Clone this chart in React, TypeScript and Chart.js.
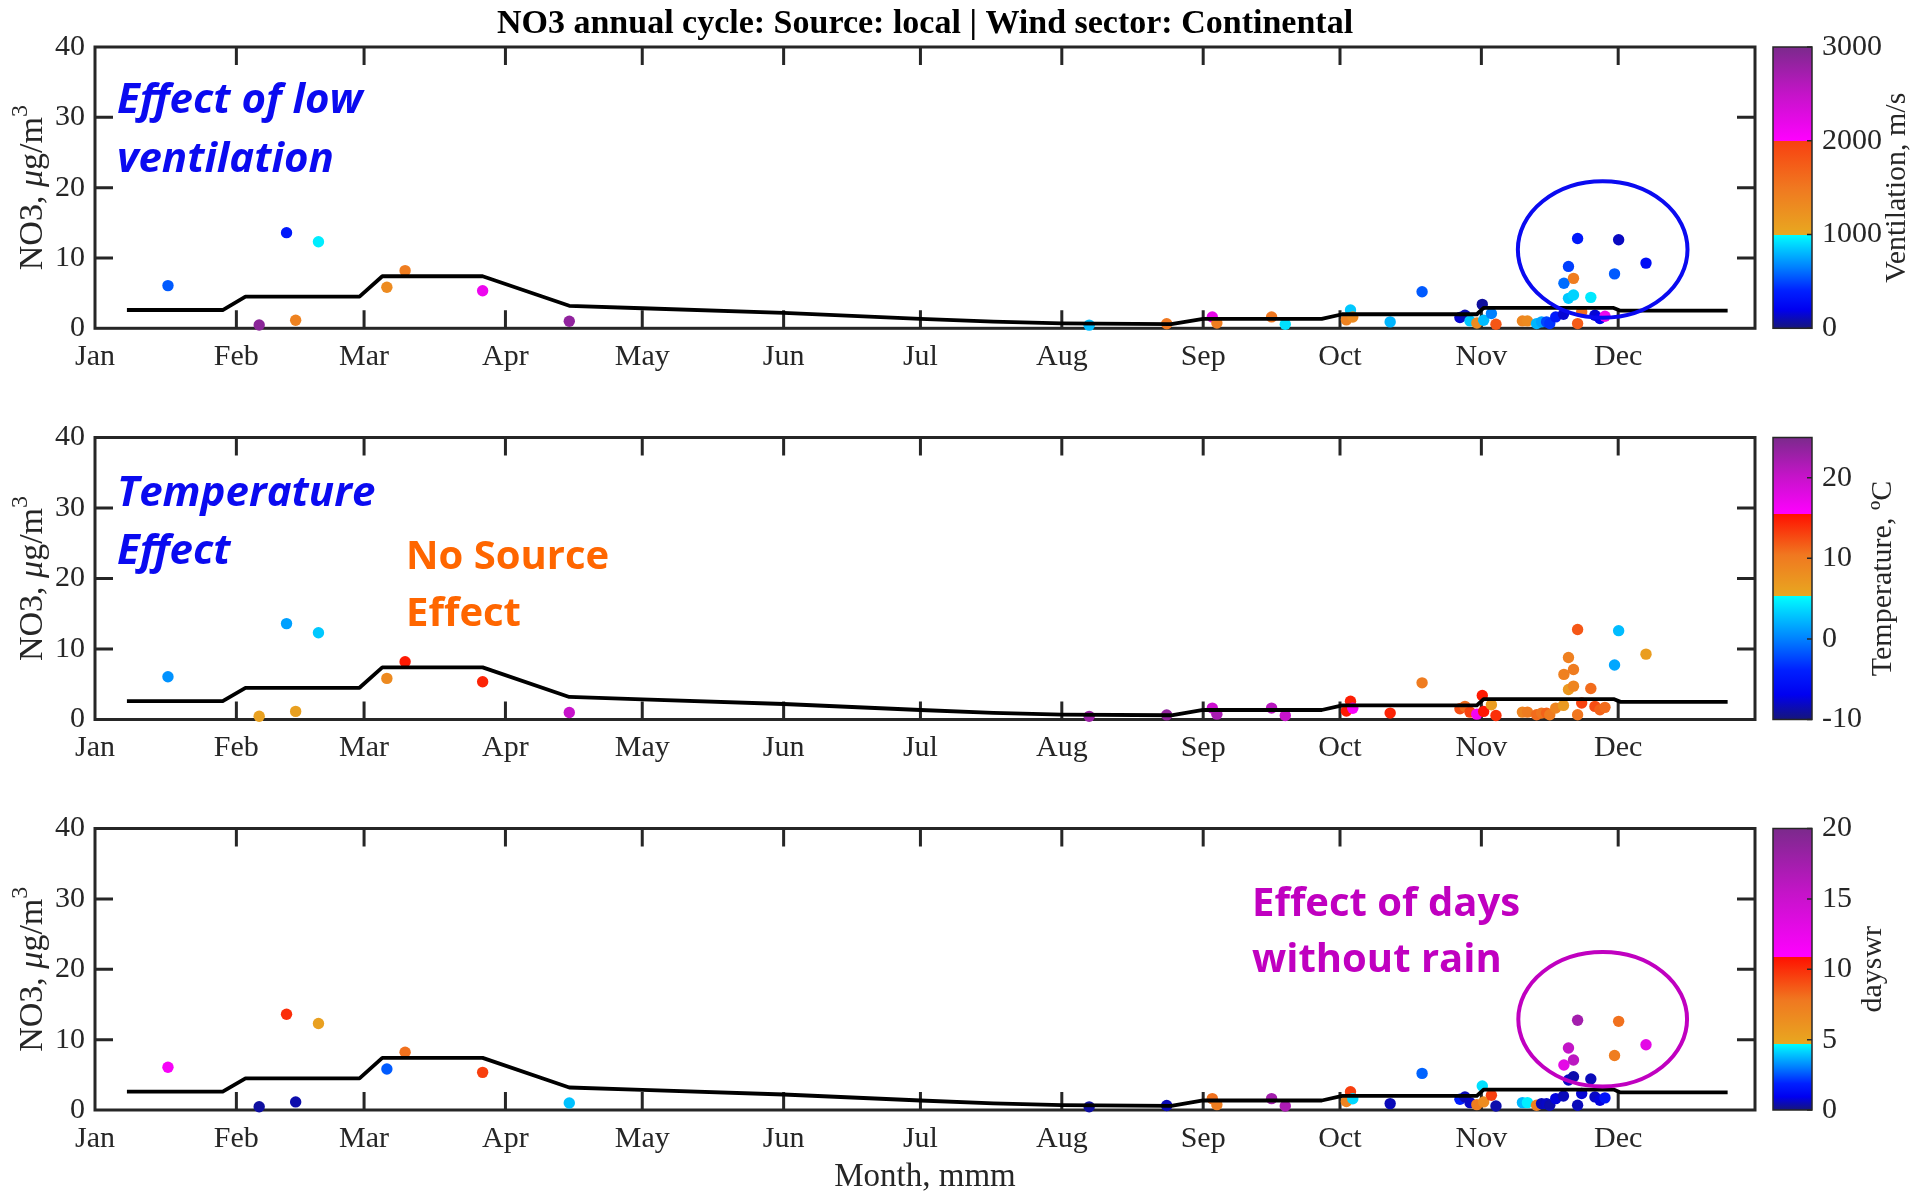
import React, { useEffect, useRef } from 'react';
import { Chart, registerables } from 'chart.js';

Chart.register(...registerables);

// ---------- axis ticks ----------
const monthTickDays = [0, 31, 59, 90, 120, 151, 181, 212, 243, 273, 304, 334];
const monthLabels = ['Jan', 'Feb', 'Mar', 'Apr', 'May', 'Jun', 'Jul', 'Aug', 'Sep', 'Oct', 'Nov', 'Dec'];
const no3Ticks = [0, 10, 20, 30, 40];
const ventilationTicks = [0, 1000, 2000, 3000];
const temperatureTicks = [-10, 0, 10, 20];
const dayswrTicks = [0, 5, 10, 15, 20];

// ---------- daily samples (day of year, NO3) ----------
const sampleDay = [16, 36, 42, 44, 49, 64, 68, 85, 104, 218, 235, 245, 246, 258, 261, 274.4, 275.3, 275.8, 284, 291,
  299.3, 300.4, 301.5, 303, 304.2, 304.5, 306.2, 307.2, 313, 314.1, 316.1, 317.2, 318.3, 319, 320.3, 322,
  323.1, 324.2, 322.1, 324.2, 323.1, 325.1, 328, 326, 325.1, 328.9, 330, 331.1, 334.1, 333.2, 340.1];
const sampleNo3 = [6.07, 0.47, 13.6, 1.15, 12.3, 5.83, 8.2, 5.35, 1.0, 0.45, 0.65, 1.62, 0.76, 1.62, 0.57, 1.2, 2.6, 1.6, 0.91, 5.2,
  1.53, 1.86, 1.05, 0.76, 3.4, 1.15, 2.1, 0.57, 1.05, 1.05, 0.67, 0.91, 0.91, 0.67, 1.62, 2.0,
  4.26, 4.73, 6.4, 7.1, 8.8, 12.76, 4.4, 2.34, 0.67, 1.86, 1.39, 1.72, 12.6, 7.74, 9.27];
const ventilation = [550, 2900, 350, 1400, 950, 1300, 1450, 2150, 2850, 820, 1500, 2200, 1450, 1500, 920, 1400, 850, 1300, 800, 550,
  150, 100, 850, 1300, 60, 820, 650, 1800, 1350, 1300, 800, 750, 500, 450, 350, 150,
  850, 880, 600, 1450, 480, 350, 940, 1600, 1750, 150, 200, 2150, 120, 550, 280];
const temperature = [0.7, 6.0, 1.3, 6.2, 3.0, 8.5, 15, 14.5, 20, 23, 23.5, 19.5, 22, 21, 20, 15, 14.8, 16, 14.5, 10,
  12.5, 11, 13, 16.5, 15, 15.2, 6.5, 14, 9, 10, 11, 10.5, 11.5, 10, 9, 6.8,
  7, 9, 9.5, 10, 9.5, 12, 11, 13, 10.5, 12.5, 11.5, 11, 2.5, 1.6, 6.5];
const dayswr = [11.5, 0.3, 10, 0.4, 5.2, 2.6, 8, 9.5, 3.9, 0.3, 0.5, 8, 7.5, 17.5, 17, 7, 9.5, 4.2, 0.5, 2.7,
  1.8, 0.5, 0.6, 7.5, 4.3, 6.5, 9.5, 0.4, 3.8, 4.5, 7.2, 0.5, 0.6, 0.4, 0.8, 0.5,
  0.6, 0.4, 13, 16, 15.5, 17.5, 0.5, 0.7, 0.5, 0.6, 0.8, 1.5, 8, 7.5, 13];

// ---------- annual cycle curve ----------
const curveDay = [7, 28, 33, 58, 63, 85, 104, 120, 151, 181, 197, 212, 236, 243, 269, 273.5, 303, 304.5, 333, 334.5, 358];
const curveNo3 = [2.6, 2.6, 4.5, 4.5, 7.4, 7.4, 3.2, 2.85, 2.2, 1.35, 0.95, 0.7, 0.6, 1.35, 1.35, 2.0, 2.0, 2.9, 2.9, 2.5, 2.5];

const SERIF = '"Liberation Serif", "Times New Roman", Times, serif';
const SANS = '"Open Sans", "Noto Sans", sans-serif';
const INK = '#262626';
const TITLE = 'NO3 annual cycle: Source: local | Wind sector: Continental';

type Stop = [number, string];

function buildStops(range: number[], breaks: number[], redEnd: string): Stop[] {
  const span = range[1] - range[0];
  const b1 = (breaks[0] - range[0]) / span;
  const b2 = (breaks[1] - range[0]) / span;
  const blue: Stop[] = [[0, '#16167a'], [0.2, '#0000f0'], [0.4, '#0020ff'], [0.65, '#0080ff'], [0.85, '#00c8ff'], [1, '#00ffff']];
  const orange: Stop[] = [[0, '#e8a820'], [0.5, '#f07820'], [1, redEnd]];
  const mag: Stop[] = [[0, '#ff00ff'], [0.5, '#c414c8'], [1, '#7b2a8c']];
  return [
    ...blue.map(([f, c]) => [f * b1, c] as Stop),
    ...orange.map(([f, c]) => [b1 + f * (b2 - b1), c] as Stop),
    ...mag.map(([f, c]) => [b2 + f * (1 - b2), c] as Stop),
  ];
}

function hexToRgb(h: string) {
  return [parseInt(h.slice(1, 3), 16), parseInt(h.slice(3, 5), 16), parseInt(h.slice(5, 7), 16)];
}

function colorAt(stops: Stop[], t: number) {
  const tt = Math.max(0, Math.min(1, t));
  for (let i = 0; i < stops.length - 1; i++) {
    const [p0, c0] = stops[i];
    const [p1, c1] = stops[i + 1];
    if (p1 > p0 && tt >= p0 && tt <= p1) {
      const f = (tt - p0) / (p1 - p0);
      const a = hexToRgb(c0), b = hexToRgb(c1);
      const m = a.map((v, k) => Math.round(v + (b[k] - v) * f));
      return `rgb(${m[0]},${m[1]},${m[2]})`;
    }
  }
  return stops[stops.length - 1][1];
}

type Note = { text: string; day: number; value: number; color: string; italic: boolean };

const panels = [
  {
    values: ventilation, range: [0, 3000], breaks: [1000, 2000], redEnd: '#f84010', cbTicks: ventilationTicks,
    cbLabel: 'Ventilation, m/s', cbLabelX: 1897, canvasTop: 0, height: 390, plotTop: 47, plotBottom: 328.3,
    title: true, xTitle: false,
    notes: [
      { text: 'Effect of low', day: 4.8, value: 30.6, color: '#0a0af0', italic: true },
      { text: 'ventilation', day: 4.8, value: 22.2, color: '#0a0af0', italic: true },
    ] as Note[],
    ellipse: { day: 330.6, value: 11.2, rxDays: 18.6, ryValue: 9.7, color: '#0a0af0' },
  },
  {
    values: temperature, range: [-10, 25], breaks: [5.3, 15.5], redEnd: '#ff1000', cbTicks: temperatureTicks,
    cbLabel: 'Temperature, \u00baC', cbLabelX: 1883, canvasTop: 390, height: 390, plotTop: 437.5, plotBottom: 719.5,
    title: false, xTitle: false,
    notes: [
      { text: 'Temperature', day: 4.8, value: 30.3, color: '#0a0af0', italic: true },
      { text: 'Effect', day: 4.8, value: 22.1, color: '#0a0af0', italic: true },
      { text: 'No Source', day: 68.2, value: 21.4, color: '#ff6600', italic: false },
      { text: 'Effect', day: 68.2, value: 13.3, color: '#ff6600', italic: false },
    ] as Note[],
    ellipse: null as any,
  },
  {
    values: dayswr, range: [0, 20], breaks: [4.7, 10.9], redEnd: '#ff1000', cbTicks: dayswrTicks,
    cbLabel: 'dayswr', cbLabelX: 1873, canvasTop: 780, height: 413, plotTop: 828.5, plotBottom: 1110,
    title: false, xTitle: true,
    notes: [
      { text: 'Effect of days', day: 253.7, value: 27.6, color: '#c000c0', italic: false },
      { text: 'without rain', day: 253.7, value: 19.6, color: '#c000c0', italic: false },
    ] as Note[],
    ellipse: { day: 330.6, value: 12.9, rxDays: 18.5, ryValue: 9.55, color: '#c000c0' },
  },
];

const PLOT_LEFT = 95;
const PLOT_RIGHT = 1755;
const WIDTH = 1917;

function zeroPad(s: any) {
  s.paddingTop = 0;
  s.paddingBottom = 0;
  s.paddingLeft = 0;
  s.paddingRight = 0;
}

function makeConfig(p: any): any {
  const stops = buildStops(p.range, p.breaks, p.redEnd);
  const colors = p.values.map((v: number) => colorAt(stops, (v - p.range[0]) / (p.range[1] - p.range[0])));
  const localTop = p.plotTop - p.canvasTop;
  const xAxisH = p.height - (p.plotBottom - p.canvasTop);
  const tickFont = { family: SERIF, size: 30 };

  const decor = {
    id: 'decor',
    beforeDatasetsDraw(chart: any) {
      const { ctx, chartArea: a, scales } = chart;
      ctx.save();
      ctx.strokeStyle = INK;
      ctx.lineWidth = 3;
      ctx.strokeRect(a.left, a.top, a.right - a.left, a.bottom - a.top);
      ctx.beginPath();
      const tl = 18;
      monthTickDays.forEach((d) => {
        const x = scales.x.getPixelForValue(d);
        if (x <= a.left + 1) return;
        ctx.moveTo(x, a.bottom); ctx.lineTo(x, a.bottom - tl);
        ctx.moveTo(x, a.top); ctx.lineTo(x, a.top + tl);
      });
      no3Ticks.forEach((v) => {
        const y = scales.y.getPixelForValue(v);
        if (y >= a.bottom - 1 || y <= a.top + 1) return;
        ctx.moveTo(a.left, y); ctx.lineTo(a.left + tl, y);
        ctx.moveTo(a.right, y); ctx.lineTo(a.right - tl, y);
      });
      ctx.stroke();
      ctx.restore();
    },
    afterDatasetsDraw(chart: any) {
      const { ctx, scales } = chart;
      ctx.save();
      p.notes.forEach((n: Note) => {
        ctx.font = n.italic ? `italic 700 42px ${SANS}` : `700 40px ${SANS}`;
        ctx.fillStyle = n.color;
        ctx.textAlign = 'left';
        ctx.textBaseline = 'alphabetic';
        ctx.fillText(n.text, scales.x.getPixelForValue(n.day), scales.y.getPixelForValue(n.value));
      });
      if (p.ellipse) {
        const e = p.ellipse;
        const cx = scales.x.getPixelForValue(e.day);
        const cy = scales.y.getPixelForValue(e.value);
        const rx = scales.x.getPixelForValue(e.day + e.rxDays) - cx;
        const ry = cy - scales.y.getPixelForValue(e.value + e.ryValue);
        ctx.beginPath();
        ctx.ellipse(cx, cy, rx, ry, 0, 0, Math.PI * 2);
        ctx.strokeStyle = e.color;
        ctx.lineWidth = 4;
        ctx.stroke();
      }
      ctx.restore();
    },
    afterDraw(chart: any) {
      const { ctx, chartArea: a, scales } = chart;
      const cb = scales.cb;
      ctx.save();
      // colorbar
      const x0 = a.right + 18, x1 = a.right + 57;
      const top = cb.getPixelForValue(p.range[1]);
      const bottom = cb.getPixelForValue(p.range[0]);
      const g = ctx.createLinearGradient(0, bottom, 0, top);
      stops.forEach(([pos, c]) => g.addColorStop(pos, c));
      ctx.fillStyle = g;
      ctx.fillRect(x0, top, x1 - x0, bottom - top);
      ctx.strokeStyle = INK;
      ctx.lineWidth = 1.5;
      ctx.strokeRect(x0, top, x1 - x0, bottom - top);
      ctx.beginPath();
      p.cbTicks.forEach((v: number) => {
        const y = cb.getPixelForValue(v);
        ctx.moveTo(x1, y); ctx.lineTo(x1 - 5, y);
      });
      ctx.stroke();
      // colorbar label
      ctx.save();
      ctx.translate(p.cbLabelX, (top + bottom) / 2);
      ctx.rotate(-Math.PI / 2);
      ctx.font = `30px ${SERIF}`;
      ctx.fillStyle = INK;
      ctx.textAlign = 'center';
      ctx.textBaseline = 'middle';
      ctx.fillText(p.cbLabel, 0, 0);
      ctx.restore();
      // y label: NO3, μg/m^3
      const fs = 34;
      const parts = [
        { t: 'NO3, ', f: `${fs}px ${SERIF}`, rise: 0 },
        { t: '\u03bc', f: `italic ${fs}px ${SERIF}`, rise: 0 },
        { t: 'g/m', f: `${fs}px ${SERIF}`, rise: 0 },
        { t: '3', f: `${Math.round(fs * 0.72)}px ${SERIF}`, rise: fs * 0.45 },
      ];
      let total = 0;
      parts.forEach((pt) => { ctx.font = pt.f; total += ctx.measureText(pt.t).width; });
      ctx.save();
      ctx.translate(42, (a.top + a.bottom) / 2);
      ctx.rotate(-Math.PI / 2);
      ctx.fillStyle = INK;
      ctx.textAlign = 'left';
      ctx.textBaseline = 'alphabetic';
      let xx = -total / 2;
      parts.forEach((pt) => {
        ctx.font = pt.f;
        ctx.fillText(pt.t, xx, -pt.rise);
        xx += ctx.measureText(pt.t).width;
      });
      ctx.restore();
      // title
      if (p.title) {
        ctx.font = `bold 34px ${SERIF}`;
        ctx.fillStyle = '#000';
        ctx.textAlign = 'center';
        ctx.textBaseline = 'alphabetic';
        ctx.fillText(TITLE, (a.left + a.right) / 2, 33);
      }
      if (p.xTitle) {
        ctx.font = `33px ${SERIF}`;
        ctx.fillStyle = INK;
        ctx.textAlign = 'center';
        ctx.textBaseline = 'middle';
        ctx.fillText('Month, mmm', (a.left + a.right) / 2, 1177 - p.canvasTop);
      }
      ctx.restore();
    },
  };

  return {
    type: 'scatter',
    data: {
      datasets: [
        {
          type: 'line',
          data: curveDay.map((d, i) => ({ x: d, y: curveNo3[i] })),
          borderColor: '#000', borderWidth: 3.8, pointRadius: 0, tension: 0, fill: false, clip: false,
          borderJoinStyle: 'round',
        },
        {
          type: 'scatter',
          data: sampleDay.map((d, i) => ({ x: d, y: sampleNo3[i] })),
          pointRadius: 5.7, pointBackgroundColor: colors, pointBorderColor: colors, pointBorderWidth: 0,
          borderWidth: 0, clip: false,
        },
      ],
    },
    options: {
      animation: false,
      responsive: false,
      maintainAspectRatio: false,
      events: [],
      layout: { padding: { left: 0, right: 0, top: localTop, bottom: 0 } },
      plugins: { legend: { display: false }, tooltip: { enabled: false }, title: { display: false } },
      scales: {
        x: {
          type: 'linear', position: 'bottom', min: 0, max: 364,
          afterBuildTicks: (s: any) => { s.ticks = monthTickDays.map((v) => ({ value: v })); },
          ticks: {
            autoSkip: false, maxRotation: 0, minRotation: 0, padding: 11, color: INK, font: tickFont,
            callback: (v: number) => { const i = monthTickDays.indexOf(v); return i >= 0 ? monthLabels[i] : ''; },
          },
          grid: { display: false, drawTicks: false }, border: { display: false },
          afterFit: (s: any) => { s.height = xAxisH; zeroPad(s); },
        },
        y: {
          type: 'linear', position: 'left', min: 0, max: 40,
          afterBuildTicks: (s: any) => { s.ticks = no3Ticks.map((v) => ({ value: v })); },
          ticks: { padding: 10, color: INK, font: tickFont, callback: (v: number) => String(v) },
          grid: { display: false, drawTicks: false }, border: { display: false },
          afterFit: (s: any) => { s.width = PLOT_LEFT; zeroPad(s); },
        },
        cb: {
          type: 'linear', position: 'right', min: p.range[0], max: p.range[1],
          afterBuildTicks: (s: any) => { s.ticks = p.cbTicks.map((v: number) => ({ value: v })); },
          ticks: { padding: 67, color: INK, font: tickFont, callback: (v: number) => String(v) },
          grid: { display: false, drawTicks: false }, border: { display: false },
          afterFit: (s: any) => { s.width = WIDTH - PLOT_RIGHT; zeroPad(s); },
        },
      },
    },
    plugins: [decor],
  };
}

export default function App() {
  const r0 = useRef<HTMLCanvasElement>(null);
  const r1 = useRef<HTMLCanvasElement>(null);
  const r2 = useRef<HTMLCanvasElement>(null);
  const refs = [r0, r1, r2];

  useEffect(() => {
    document.body.style.margin = '0';
    document.body.style.overflow = 'hidden';
    const charts = panels.map((p, i) => new Chart(refs[i].current as HTMLCanvasElement, makeConfig(p)));
    return () => charts.forEach((c) => c.destroy());
  }, []);

  return (
    <div style={{ position: 'relative', width: WIDTH, height: 1193, background: '#fff' }}>
      {panels.map((p, i) => (
        <canvas
          key={i}
          ref={refs[i]}
          width={WIDTH}
          height={p.height}
          style={{ position: 'absolute', left: 0, top: p.canvasTop, width: WIDTH, height: p.height }}
        />
      ))}
    </div>
  );
}
